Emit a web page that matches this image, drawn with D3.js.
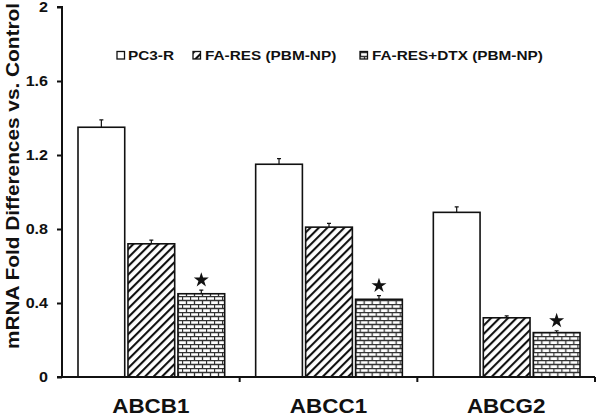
<!DOCTYPE html>
<html>
<head>
<meta charset="utf-8">
<script src="https://cdn.jsdelivr.net/npm/d3@7"></script>
<style>
  body { margin: 0; background: #fff; }
  text { font-family: Arial, "Liberation Sans", sans-serif; font-weight: bold; }
</style>
</head>
<body>
<svg id="chart" width="600" height="416"></svg>
<script>
// Data
const genes = ['ABCB1', 'ABCC1', 'ABCG2'];
const series = ['PC3-R', 'FA-RES (PBM-NP)', 'FA-RES+DTX (PBM-NP)'];
const pc3r = [1.35, 1.15, 0.89];
const faRes = [0.72, 0.81, 0.32];
const faResDtx = [0.45, 0.42, 0.24];
const pc3rErr = [0.04, 0.03, 0.03];
const faResErr = [0.02, 0.02, 0.01];
const faResDtxErr = [0.02, 0.02, 0.01];
const starred = [false, false, true]; // star over the third series
const yTicks = [0, 0.4, 0.8, 1.2, 1.6, 2];

const width = 600, height = 416;
const margin = {top: 7, right: 5, bottom: 39, left: 62};
const stretch = 1.2; // the source figure is wider than tall
const svg = d3.select('#chart');

// widen text horizontally like the original
function widen(sel, k) {
  sel.each(function() {
    const w = this.getComputedTextLength();
    d3.select(this).attr('textLength', w * (k || stretch)).attr('lengthAdjust', 'spacingAndGlyphs');
  });
}

// patterns
const defs = svg.append('defs');
const hatch = defs.append('pattern')
  .attr('id', 'hatch').attr('patternUnits', 'userSpaceOnUse')
  .attr('width', 6).attr('height', 6)
  .attr('patternTransform', 'rotate(45)');
hatch.append('rect').attr('width', 6).attr('height', 6).attr('fill', '#fff');
hatch.append('line').attr('x1', 0).attr('y1', 0).attr('x2', 0).attr('y2', 6)
  .attr('stroke', '#111').attr('stroke-width', 4.2);

const brick = defs.append('pattern')
  .attr('id', 'brick').attr('patternUnits', 'userSpaceOnUse')
  .attr('width', 8).attr('height', 8);
brick.append('rect').attr('width', 8).attr('height', 8).attr('fill', '#fff');
brick.append('path')
  .attr('d', 'M0,0.5H8M0,4.5H8M0.5,0V4.5M4.5,4.5V8')
  .attr('stroke', '#333').attr('stroke-width', 1.3).attr('fill', 'none');

const fills = ['#fff', 'url(#hatch)', 'url(#brick)'];

const x0 = d3.scaleBand()
  .domain(genes)
  .range([margin.left, width - margin.right])
  .paddingInner(0).paddingOuter(0);

const x1 = d3.scaleBand()
  .domain(series)
  .range([16, x0.bandwidth() - 15])
  .paddingInner(0.065);

const y = d3.scaleLinear()
  .domain([0, 2])
  .range([height - margin.bottom, margin.top]);

const rows = genes.map((g, i) => ({
  gene: g,
  values: [
    {s: series[0], v: pc3r[i], e: pc3rErr[i], k: 0},
    {s: series[1], v: faRes[i], e: faResErr[i], k: 1},
    {s: series[2], v: faResDtx[i], e: faResDtxErr[i], k: 2}
  ]
}));

const groups = svg.selectAll('g.group')
  .data(rows)
  .enter().append('g')
  .attr('class', 'group')
  .attr('transform', d => `translate(${x0(d.gene)},0)`);

// error bars (drawn first so only the upper whisker shows)
groups.selectAll('path.err')
  .data(d => d.values)
  .enter().append('path')
  .attr('class', 'err')
  .attr('d', d => {
    const cx = x1(d.s) + x1.bandwidth() / 2;
    return `M${cx},${y(d.v)}V${y(d.v + d.e)}M${cx - 2},${y(d.v + d.e)}H${cx + 2}`;
  })
  .attr('stroke', '#111').attr('stroke-width', 1.2).attr('fill', 'none');

groups.selectAll('rect.bar')
  .data(d => d.values)
  .enter().append('rect')
  .attr('class', 'bar')
  .attr('x', d => x1(d.s))
  .attr('y', d => y(d.v))
  .attr('width', x1.bandwidth())
  .attr('height', d => y(0) - y(d.v))
  .attr('fill', d => fills[d.k])
  .attr('stroke', '#111').attr('stroke-width', 1.6);

// stars
groups.selectAll('path.star')
  .data(d => d.values.filter(v => starred[v.k]))
  .enter().append('path')
  .attr('class', 'star')
  .attr('d', d3.symbol().type(d3.symbolStar).size(70))
  .attr('transform', d => `translate(${x1(d.s) + x1.bandwidth() / 2},${y(d.v + d.e) - 10})`)
  .attr('fill', '#111');

// y axis
const yAxis = svg.append('g')
  .attr('transform', `translate(${margin.left},0)`)
  .call(d3.axisLeft(y).tickValues(yTicks).tickSize(5).tickPadding(9)
    .tickFormat(d => d === 0 ? '0' : d3.format('')(d)));
yAxis.select('.domain').attr('stroke', '#111').attr('stroke-width', 2)
  .attr('d', `M-5,${y(2)}H0V${y(0)}`);
yAxis.selectAll('.tick line').attr('stroke', '#111').attr('stroke-width', 2);
yAxis.selectAll('.tick text').attr('font-size', 14).attr('fill', '#111').call(widen, 1.15);

// x axis with ticks at category boundaries
const xAxis = svg.append('g')
  .attr('transform', `translate(0,${y(0)})`);
xAxis.append('line')
  .attr('x1', margin.left - 5).attr('x2', width - margin.right)
  .attr('stroke', '#111').attr('stroke-width', 2);
xAxis.selectAll('line.tick')
  .data(genes)
  .enter().append('line')
  .attr('class', 'tick')
  .attr('x1', d => x0(d) + x0.bandwidth()).attr('x2', d => x0(d) + x0.bandwidth())
  .attr('y1', 0).attr('y2', 5)
  .attr('stroke', '#111').attr('stroke-width', 2);
xAxis.selectAll('text')
  .data(genes)
  .enter().append('text')
  .attr('x', d => x0(d) + x0.bandwidth() / 2)
  .attr('y', 36)
  .attr('text-anchor', 'middle')
  .attr('font-size', 19.5)
  .attr('fill', '#111')
  .text(d => d)
  .call(widen, 1.15);

// y label
svg.append('text')
  .attr('transform', `translate(19,176) rotate(-90)`)
  .attr('text-anchor', 'middle')
  .attr('font-size', 18.5)
  .attr('fill', '#111')
  .text('mRNA Fold Differences vs. Control')
  .attr('textLength', 346)
  .attr('lengthAdjust', 'spacingAndGlyphs');

// legend
const legendX = [117, 193, 360];
const legend = svg.selectAll('g.legend')
  .data(series)
  .enter().append('g')
  .attr('class', 'legend')
  .attr('transform', (d, i) => `translate(${legendX[i]},60)`);
legend.append('rect')
  .attr('x', 0).attr('y', -8.5).attr('width', 7.5).attr('height', 7.5)
  .attr('fill', (d, i) => fills[i])
  .attr('stroke', '#111').attr('stroke-width', 1.3);
legend.append('text')
  .attr('x', (d, i) => i === 0 ? 11 : 12)
  .attr('y', 0)
  .attr('font-size', 13)
  .attr('fill', '#111')
  .text(d => d)
  .call(widen, 1.18);
</script>
</body>
</html>
